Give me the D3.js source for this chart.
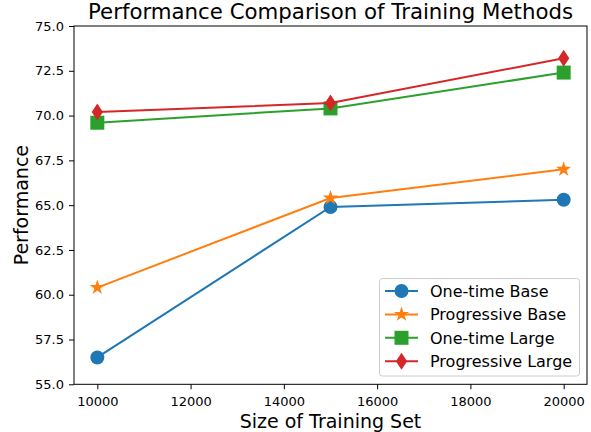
<!DOCTYPE html>
<html><head><meta charset="utf-8">
<script src="https://cdn.jsdelivr.net/npm/d3@7"></script>
<style>body{margin:0;background:#fff}svg{display:block}</style>
</head><body>
<svg id="c" width="591" height="432"></svg>
<script>
const sizes = [10000, 15000, 20000];
const oneTimeBase = [56.5, 64.9, 65.3];
const progressiveBase = [60.4, 65.4, 67.0];
const oneTimeLarge = [69.6, 70.4, 72.4];
const progressiveLarge = [70.2, 70.7, 73.2];
const seriesNames = ["One-time Base", "Progressive Base", "One-time Large", "Progressive Large"];
const xTicks = [10000, 12000, 14000, 16000, 18000, 20000];
const yTicks = [55.0, 57.5, 60.0, 62.5, 65.0, 67.5, 70.0, 72.5, 75.0];

const series = [
  {name: seriesNames[0], values: oneTimeBase, color: "#1f77b4", marker: "circle"},
  {name: seriesNames[1], values: progressiveBase, color: "#ff7f0e", marker: "star"},
  {name: seriesNames[2], values: oneTimeLarge, color: "#2ca02c", marker: "square"},
  {name: seriesNames[3], values: progressiveLarge, color: "#d62728", marker: "diamond"}
];

const svg = d3.select("#c");
const font = "DejaVu Sans, sans-serif";
const m = {l: 74, r: 587, t: 26, b: 384.3};
const x = d3.scaleLinear().domain([9500, 20500]).range([m.l, m.r]);
const y = d3.scaleLinear().domain([55, 75]).range([m.b, m.t]);

function markerPath(type) {
  if (type === "circle") { const r = 7; return `M${r},0A${r},${r} 0 1,1 ${-r},0A${r},${r} 0 1,1 ${r},0Z`; }
  if (type === "square") { const s = 7; return `M${-s},${-s}H${s}V${s}H${-s}Z`; }
  if (type === "diamond") { const h = 8.5, w = 5.6; return `M0,${-h}L${w},0L0,${h}L${-w},0Z`; }
  if (type === "star") {
    const R = 8, ri = R * 0.381966; let p = "";
    for (let i = 0; i < 10; i++) {
      const rr = i % 2 ? ri : R; const a = -Math.PI / 2 + i * Math.PI / 5;
      p += (i ? "L" : "M") + (rr * Math.cos(a)).toFixed(2) + "," + (rr * Math.sin(a)).toFixed(2);
    }
    return p + "Z";
  }
}

// axes
const xAxis = d3.axisBottom(x).tickValues(xTicks).tickFormat(d3.format("d")).tickSizeOuter(0).tickSize(5).tickPadding(7);
const yAxis = d3.axisLeft(y).tickValues(yTicks).tickFormat(d3.format(".1f")).tickSizeOuter(0).tickSize(5).tickPadding(5);
const gx = svg.append("g").attr("transform", `translate(0,${m.b})`).call(xAxis);
const gy = svg.append("g").attr("transform", `translate(${m.l},0)`).call(yAxis);
[gx, gy].forEach(g => {
  g.select(".domain").remove();
  g.selectAll("text").attr("font-family", font).attr("font-size", 13).attr("fill", "#000");
  g.selectAll("line").attr("stroke", "#000").attr("stroke-width", 1);
});

// lines
const line = d3.line().x((d, i) => x(sizes[i])).y(d => y(d));
series.forEach(s => {
  svg.append("path").datum(s.values).attr("d", line).attr("fill", "none")
    .attr("stroke", s.color).attr("stroke-width", 2);
  svg.append("g").selectAll("path").data(s.values).join("path")
    .attr("d", markerPath(s.marker))
    .attr("transform", (d, i) => `translate(${x(sizes[i])},${y(d)})`)
    .attr("fill", s.color);
});

// spines
svg.append("rect").attr("x", m.l).attr("y", m.t).attr("width", m.r - m.l).attr("height", m.b - m.t)
  .attr("fill", "none").attr("stroke", "#000").attr("stroke-width", 1);

// title & labels
svg.append("text").attr("x", (m.l + m.r) / 2).attr("y", 19).attr("text-anchor", "middle")
  .attr("font-family", font).attr("font-size", 21.3).text("Performance Comparison of Training Methods");
svg.append("text").attr("x", (m.l + m.r) / 2).attr("y", 427.5).attr("text-anchor", "middle")
  .attr("font-family", font).attr("font-size", 19).text("Size of Training Set");
svg.append("text").attr("transform", `translate(27.5,${(m.t + m.b) / 2}) rotate(-90)`).attr("text-anchor", "middle")
  .attr("font-family", font).attr("font-size", 19).text("Performance");

// legend
const lg = svg.append("g");
lg.append("rect").attr("x", 379.5).attr("y", 278.5).attr("width", 200).attr("height", 97.5).attr("rx", 3)
  .attr("fill", "#fff").attr("fill-opacity", 0.8).attr("stroke", "#ccc").attr("stroke-width", 1);
series.forEach((s, i) => {
  const yy = 291 + i * 23.4;
  lg.append("line").attr("x1", 385).attr("x2", 418).attr("y1", yy).attr("y2", yy).attr("stroke", s.color).attr("stroke-width", 2);
  lg.append("path").attr("d", markerPath(s.marker)).attr("transform", `translate(401.5,${yy})`).attr("fill", s.color);
  lg.append("text").attr("x", 430).attr("y", yy + 6).attr("font-family", font).attr("font-size", 16).text(s.name);
});
</script>
</body></html>
